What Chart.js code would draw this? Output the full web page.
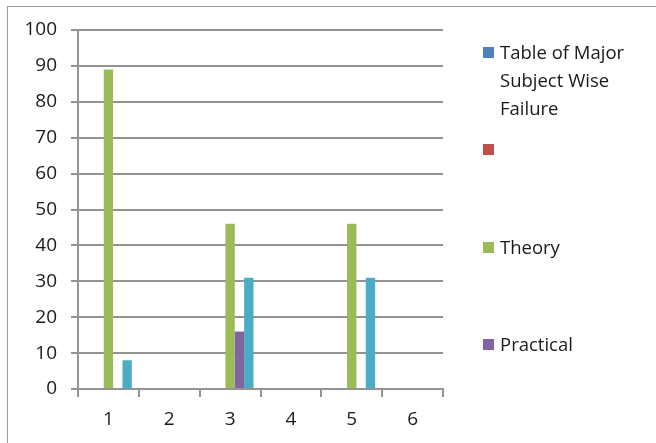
<!DOCTYPE html>
<html>
<head>
	<title>Subject Wise Failure</title>
	<script src="https://cdn.jsdelivr.net/npm/chart.js@4/dist/chart.umd.min.js"></script>
	<style>
		body { margin: 0; font-family: "Open Sans", sans-serif; background: #fff; }
		#frame { position: absolute; left: 7px; top: 6px; width: 700px; height: 500px; border: 1px solid #999; }
		#wrap { position: absolute; left: 0; top: 0; width: 656px; height: 443px; overflow: hidden; }
		.key { position: absolute; left: 483px; width: 11px; height: 11px; }
		.txt { position: absolute; left: 500px; font-size: 18.5px; line-height: 28px; color: #1a1a1a; }
	</style>
</head>
<body>
<div id="wrap">
	<div id="frame"></div>
	<canvas id="chart1" width="656" height="443" style="position:absolute;left:0;top:0;"></canvas>
	<!-- legend drawn as html, the long label wraps over three lines -->
	<div class="key" style="top:47px;background:#4F81BD"></div>
	<div class="txt" style="top:38px">Table of Major<br>Subject Wise<br>Failure</div>
	<div class="key" style="top:144px;background:#C0504D"></div>
	<div class="key" style="top:242px;background:#9BBB59"></div>
	<div class="txt" style="top:233px">Theory</div>
	<div class="key" style="top:339px;background:#8064A2"></div>
	<div class="txt" style="top:330px">Practical</div>
</div>
<script>
	// categories and series values
	var labels = ['1', '2', '3', '4', '5', '6'];
	var tableValues = [0, 0, 0, 0, 0, 0];
	var blankValues = [0, 0, 0, 0, 0, 0];
	var theoryValues = [89, 0, 46, 0, 46, 0];
	var practicalValues = [0, 0, 16, 0, 0, 0];
	var otherValues = [8, 0, 31, 0, 31, 0];

	var gridGray = '#939393';

	var ctx = document.getElementById('chart1');
	var chart = new Chart(ctx, {
		type: 'bar',
		data: {
			labels: labels,
			datasets: [
				{ label: 'Table of Major Subject Wise Failure', data: tableValues, backgroundColor: '#4F81BD' },
				{ label: '', data: blankValues, backgroundColor: '#C0504D' },
				{ label: 'Theory', data: theoryValues, backgroundColor: '#9BBB59' },
				{ label: 'Practical', data: practicalValues, backgroundColor: '#8064A2' },
				{ label: '', data: otherValues, backgroundColor: '#4BACC6' }
			]
		},
		options: {
			responsive: false,
			animation: false,
			layout: { padding: { left: 0, top: 30, right: 213, bottom: 0 } },
			datasets: { bar: { categoryPercentage: 5 / 6.5, barPercentage: 1, borderWidth: 0 } },
			plugins: { legend: { display: false }, tooltip: { enabled: false } },
			scales: {
				x: {
					offset: true,
					grid: { offset: true, drawOnChartArea: false, drawTicks: true, tickLength: 8, color: gridGray, lineWidth: 2 },
					border: { color: gridGray, width: 2 },
					ticks: { color: '#1a1a1a', padding: 11, font: { family: 'Open Sans', size: 19 } },
					afterFit: function (scale) { scale.height = 54; }
				},
				y: {
					min: 0,
					max: 100,
					ticks: { stepSize: 10, color: '#1a1a1a', padding: 14, font: { family: 'Open Sans', size: 19 } },
					grid: { color: gridGray, lineWidth: 2, tickLength: 7 },
					border: { color: gridGray, width: 2 },
					afterFit: function (scale) { scale.width = 78; }
				}
			}
		}
	});
</script>
</body>
</html>
